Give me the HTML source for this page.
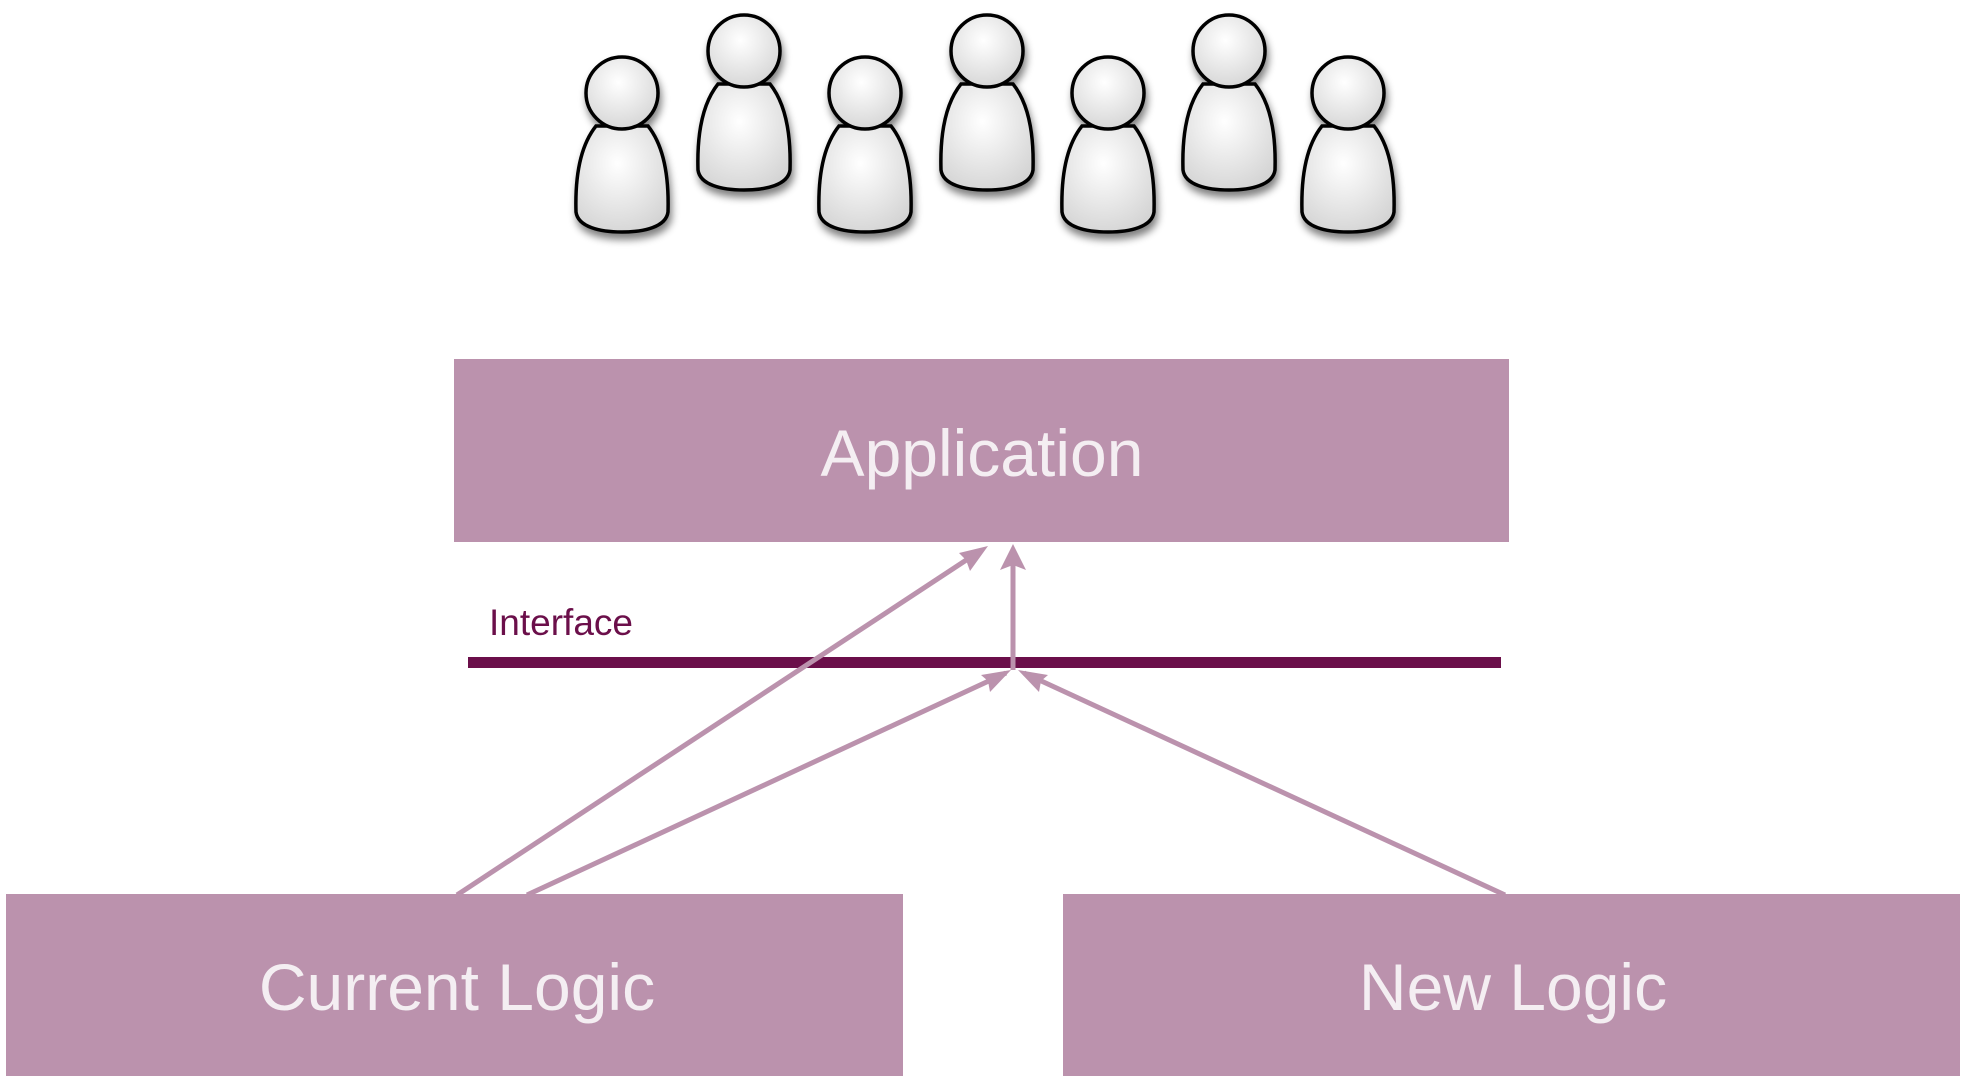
<!DOCTYPE html>
<html><head><meta charset="utf-8"><style>
html,body{margin:0;padding:0;background:#fff;width:1967px;height:1086px;overflow:hidden}
svg{display:block}
text{font-family:"Liberation Sans",sans-serif}
</style></head><body>
<svg width="1967" height="1086" viewBox="0 0 1967 1086">
<defs>
<radialGradient id="g" cx="0.45" cy="0.35" r="0.7">
<stop offset="0" stop-color="#ffffff"/><stop offset="1" stop-color="#d4d4d4"/>
</radialGradient>
<filter id="sh" x="-30%" y="-30%" width="160%" height="160%"><feGaussianBlur in="SourceAlpha" stdDeviation="4"/><feOffset dx="2" dy="6"/><feComponentTransfer><feFuncA type="linear" slope="0.5"/></feComponentTransfer><feMerge><feMergeNode/><feMergeNode in="SourceGraphic"/></feMerge></filter>
<g id="p">
<path d="M-26,-2 C-42,18 -47,50 -46,84 C-44,99 -22,104 0,104 C22,104 44,99 46,84 C47,50 42,18 26,-2 Z" fill="url(#g)" stroke="#000" stroke-width="3.5"/>
<circle cx="0" cy="-35" r="36" fill="url(#g)" stroke="#000" stroke-width="3.5"/>
</g>
</defs>
<g filter="url(#sh)">
<use href="#p" x="622" y="128"/>
<use href="#p" x="744" y="86"/>
<use href="#p" x="865" y="128"/>
<use href="#p" x="987" y="86"/>
<use href="#p" x="1108" y="128"/>
<use href="#p" x="1229" y="86"/>
<use href="#p" x="1348" y="128"/>
</g>
<rect x="454" y="359" width="1055" height="183" fill="#bb92ad"/>
<text x="982" y="476" font-size="66" fill="#f4eef2" text-anchor="middle">Application</text>
<rect x="6" y="894" width="897" height="182" fill="#bb92ad"/>
<text x="457" y="1010" font-size="66" fill="#f4eef2" text-anchor="middle">Current Logic</text>
<rect x="1063" y="894" width="897" height="182" fill="#bb92ad"/>
<text x="1513" y="1010" font-size="66" fill="#f4eef2" text-anchor="middle">New Logic</text>
<text x="489" y="635" font-size="37" fill="#6b0f4a">Interface</text>
<rect x="468" y="657" width="1033" height="11" fill="#6b0f4a"/>
<g stroke="#bb92ad" stroke-width="5" fill="none">
<line x1="457" y1="895" x2="980" y2="551"/>
<line x1="1013" y1="670" x2="1013" y2="552"/>
<line x1="527" y1="895" x2="1006" y2="673"/>
<line x1="1505" y1="895" x2="1024" y2="673"/>
</g>
<g fill="#bb92ad">
<polygon points="988,546 959,553 966,560 970,571"/>
<polygon points="1013,544 1000,570 1013,565 1026,570"/>
<polygon points="1011,670 981,675 988,681 990,692"/>
<polygon points="1018,670 1039,692 1041,681 1048,675"/>
</g>
</svg>
</body></html>
